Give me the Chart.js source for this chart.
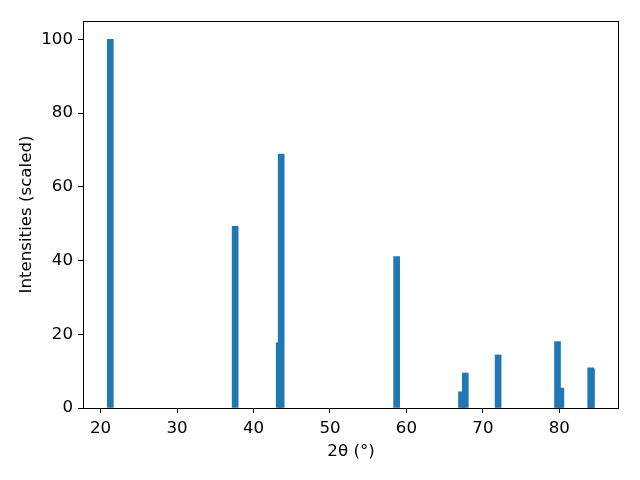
<!DOCTYPE html>
<html lang="en">
<head>
  <meta charset="UTF-8">
  <title>XRD pattern</title>
  <script src="https://cdn.jsdelivr.net/npm/chart.js"></script>
  <style>
    body { margin: 0; background: #fff; }
  </style>
</head>
<body>
  <canvas id="xrdChart" width="640" height="480"></canvas>
  <script>
    // peak positions (2theta) and scaled intensities
    const twoTheta = [21.27, 37.6, 43.36, 43.62, 58.72, 67.2, 67.7, 71.99, 79.76, 80.2, 84.1, 84.2];
    const intensity = [100, 49.3, 17.7, 68.9, 41.1, 4.4, 9.5, 14.4, 18.0, 5.4, 10.9, 10.6];
    const xTicks = [20, 30, 40, 50, 60, 70, 80];
    const yTicks = [0, 20, 40, 60, 80, 100];

    const font = { family: 'DejaVu Sans', size: 16.67 };

    const frame = {
      id: 'frame',
      afterDraw(chart) {
        const a = chart.chartArea;
        const ctx = chart.ctx;
        ctx.save();
        ctx.strokeStyle = '#000';
        ctx.lineWidth = 1;
        ctx.strokeRect(Math.round(a.left) + 0.5, Math.round(a.top) + 0.5,
          Math.round(a.right - a.left) - 1, Math.round(a.bottom - a.top));
        ctx.restore();
      }
    };

    new Chart(document.getElementById('xrdChart'), {
      type: 'bar',
      data: {
        datasets: [{
          data: twoTheta.map((x, i) => ({ x: x, y: intensity[i] })),
          backgroundColor: '#1f77b4',
          barThickness: 6,
          borderWidth: 0
        }]
      },
      options: {
        responsive: false,
        animation: false,
        layout: { padding: { top: 21, right: 21, left: 0, bottom: 0 } },
        plugins: { legend: { display: false }, tooltip: { enabled: false } },
        scales: {
          x: {
            type: 'linear',
            min: 17.7,
            max: 87.8,
            offset: false,
            afterBuildTicks: s => { s.ticks = xTicks.map(v => ({ value: v })); },
            afterFit: s => { s.height = 72; },
            border: { display: false },
            grid: { display: true, drawOnChartArea: false, drawTicks: true, tickLength: 5, color: '#000', offset: false },
            ticks: { color: '#000', font: font, padding: 6, maxRotation: 0 },
            title: { display: true, text: '2θ (°)', color: '#000', font: font, padding: { top: 0, bottom: 18 } }
          },
          y: {
            min: 0,
            max: 105,
            afterBuildTicks: s => { s.ticks = yTicks.map(v => ({ value: v })); },
            afterFit: s => { s.width = 83; },
            border: { display: false },
            grid: { display: true, drawOnChartArea: false, drawTicks: true, tickLength: 5, color: '#000' },
            ticks: { color: '#000', font: font, padding: 5 },
            title: { display: true, text: 'Intensities (scaled)', color: '#000', font: font, padding: { top: 17, bottom: 0 } }
          }
        }
      },
      plugins: [frame]
    });
  </script>
</body>
</html>
